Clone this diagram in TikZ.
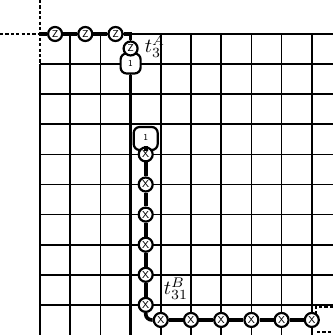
\documentclass[tikz,border=0pt]{standalone}
\usetikzlibrary{calc}
\begin{document}
\begin{tikzpicture}[x=0.5pt,y=-0.5pt,
  grid/.style={line width=0.8pt},
  bound/.style={line width=1.2pt},
  chain/.style={line width=1.8pt},
  qb/.style={circle,draw,line width=1.1pt,fill=white,inner sep=0pt,minimum size=7pt,font=\sffamily\fontsize{5}{5}\selectfont},
  onebox/.style={draw,rounded corners=3pt,line width=1.1pt,fill=white,inner sep=0pt,font=\sffamily\fontsize{4.5}{5}\selectfont},
  dsh/.style={line width=0.8pt,dash pattern=on 1.6pt off 1.1pt},
  lbl/.style={inner sep=0pt,font=\fontsize{10}{12}\selectfont},
]
\useasboundingbox (0,0) rectangle (333,335);
% grid
\foreach \i in {1,2,3,4,5,6,7,8,9} {
  \coordinate (vt\i) at ({40+30.2*\i},34);
  \coordinate (vb\i) at ({40+30.2*\i},335);
  \draw[grid] (vt\i) -- (vb\i);
}
\foreach \j in {0,1,2,3,4,5,6,7,8,9} {
  \coordinate (hl\j) at (40,{34+30.1*\j});
  \coordinate (hr\j) at (333,{34+30.1*\j});
  \draw[grid] (hl\j) -- (hr\j);
}
% boundaries
\coordinate (lt) at (40,64.1);
\coordinate (lb) at (40,335);
\draw[bound] (lt) -- (lb);
\coordinate (d0) at (40,0);
\coordinate (d1) at (0,34);
\coordinate (d2) at (40,34);
\draw[dsh] (d0) -- (lt);
\draw[dsh] (d1) -- (d2);
\coordinate (e0) at (333,307);
\coordinate (e1) at (315.7,307);
\coordinate (e2) at (315.7,325);
\coordinate (e3) at (317,332);
\coordinate (e4) at (333,332);
\draw[dsh] (e0) -- (e1) -- (e2);
\draw[dsh] (e3) -- (e4);
% Z chain
\coordinate (zs) at (40,34);
\coordinate (zc) at (130.6,34);
\coordinate (zb) at (130.6,335);
\node[onebox,minimum width=10pt,minimum height=10pt] (o1) at (130.6,63.5) {\raisebox{-1.2pt}{1}};
\draw[line width=1.2pt] (o1) -- (zb);
\node[qb] (z1) at (55.1,34) {Z};
\node[qb] (z2) at (85.3,34) {Z};
\node[qb] (z3) at (115.5,34) {Z};
\node[qb] (z4) at (130.6,48.5) {Z};
\draw[chain] (zs) -- (z1) -- (z2) -- (z3) -- (zc) -- (z4);
% X chain
\node[onebox,minimum width=12pt,minimum height=11.5pt] (o2) at (145.7,138.5) {\raisebox{1pt}{1}};
\foreach \k in {1,...,6} {
  \node[qb] (x\k) at (145.7,{154.4+30.1*(\k-1)}) {X};
  \node[qb] (b\k) at ({160.8+30.2*(\k-1)},319.95) {X};
}
\draw[chain] (o2) -- (x1);
\draw[chain] (x1) -- (x2) -- (x3) -- (x4) -- (x5) -- (x6);
\draw[chain,rounded corners=3pt] (x6) |- (b1);
\draw[chain] (b1) -- (b2) -- (b3) -- (b4) -- (b5) -- (b6);
% labels
\node[lbl] (ta) at (155,47) {$t_3^A$};
\node[lbl] (tb) at (176,289) {$t_{31}^B$};
\end{tikzpicture}
\end{document}
